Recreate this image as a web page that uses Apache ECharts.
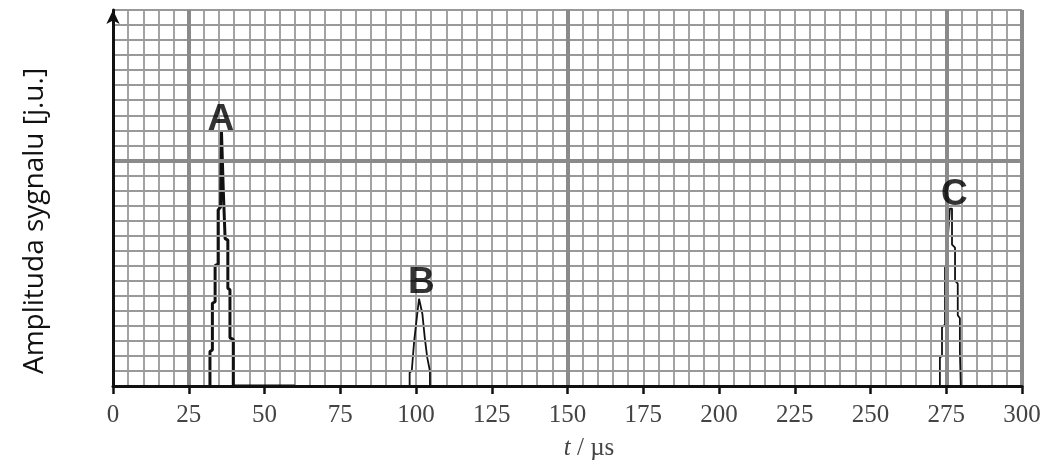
<!DOCTYPE html>
<html>
<head>
<meta charset="utf-8">
<script src="https://cdn.jsdelivr.net/npm/echarts@6/dist/echarts.min.js"></script>
<style>html,body{margin:0;padding:0;background:#fff;}#c{width:1060px;height:466px;}</style>
</head>
<body>
<div id="c"></div>
<script>
// ---- data ----
const xTickLabels = [0, 25, 50, 75, 100, 125, 150, 175, 200, 225, 250, 275, 300];
const peakA = [[32.0,0],[32.0,2.3],[32.8,2.4],[32.8,5.5],[33.7,5.6],[33.7,8.0],[34.7,8.1],[34.7,11.7],[35.5,11.9],[35.8,16.9],[36.3,16.9],[36.4,13.0],[37.0,12.9],[37.0,9.8],[37.9,9.7],[37.9,6.5],[38.6,6.4],[38.6,3.2],[39.7,3.1],[39.7,0],[60,0]];
const peakB = [[97.9,0],[97.9,0.9],[98.6,1.0],[99.4,3.0],[100.3,4.6],[101.0,5.8],[101.5,5.8],[102.1,4.8],[102.9,3.2],[103.7,1.9],[104.6,1.0],[104.6,0]];
const peakC = [[272.9,0],[272.9,1.9],[273.6,2.0],[273.6,3.9],[274.6,4.1],[274.6,7.9],[275.5,8.0],[275.5,9.8],[276.2,11.8],[276.9,11.8],[276.9,9.4],[277.9,9.2],[277.9,7.0],[278.8,6.8],[278.8,4.7],[279.5,4.5],[279.5,2.3],[279.8,0]];
const peakNames = ['A', 'B', 'C'];
const peakLabelX = [35.6, 101.8, 277.7];
const peakLabelY = [17.7, 6.85, 12.7];
const majorX = [25, 150, 275, 300];
const majorY = [15];

const chart = echarts.init(document.getElementById('c'));
const lineCommon = {type:'line', showSymbol:false, symbol:'none', animation:false, xAxisIndex:0, yAxisIndex:0, z:3};
chart.setOption({
  animation:false,
  grid:{left:113, right:38, top:10, bottom:80},
  xAxis:[
    {type:'value', min:0, max:300, interval:5, position:'bottom',
     axisLine:{show:false}, axisTick:{show:false}, axisLabel:{show:false},
     splitLine:{show:true, lineStyle:{color:'#999', width:1.8}}},
    {type:'value', min:0, max:300, interval:25, position:'bottom', z:5,
     axisLine:{show:true, onZero:false, lineStyle:{color:'#111', width:3}},
     axisTick:{show:true, length:8, lineStyle:{color:'#111', width:2.5}},
     axisLabel:{show:true, margin:17, fontFamily:'Liberation Serif', fontSize:25, color:'#444',
       formatter:function(v){return xTickLabels.indexOf(v) >= 0 ? String(v) : '';}},
     splitLine:{show:false}}
  ],
  yAxis:[
    {type:'value', min:0, max:25, interval:1, z:5,
     axisLine:{show:true, onZero:false, lineStyle:{color:'#111', width:3}, symbol:['none','arrow'], symbolSize:[10,14]},
     axisTick:{show:false}, axisLabel:{show:false},
     splitLine:{show:true, lineStyle:{color:'#999', width:1.8}}}
  ],
  graphic:[
    {type:'text', x:35, y:221, rotation:Math.PI/2, style:{text:'Amplituda sygnalu [j.u.]', font:'28px "Open Sans"', fill:'#111', textAlign:'center', textVerticalAlign:'middle'}},
    {type:'text', x:589, y:448, style:{rich:{i:{fontStyle:'italic', fontFamily:'Liberation Serif', fontSize:25, fill:'#444'}, n:{fontFamily:'Liberation Serif', fontSize:25, fill:'#444'}}, text:'{i|t}{n| / µs}', textAlign:'center', textVerticalAlign:'middle'}}
  ],
  series:[
    {type:'line', data:[], silent:true, z:1,
     markLine:{silent:true, symbol:'none', animation:false, label:{show:false},
       lineStyle:{color:'#8a8a8a', width:4, type:'solid'},
       data: majorX.map(v=>({xAxis:v})).concat(majorY.map(v=>({yAxis:v})))}},
    Object.assign({}, lineCommon, {data:peakA, lineStyle:{color:'#111', width:3}}),
    Object.assign({}, lineCommon, {data:peakB, lineStyle:{color:'#111', width:1.8}}),
    Object.assign({}, lineCommon, {data:peakC, lineStyle:{color:'#111', width:1.8}}),
    {type:'scatter', symbolSize:1, itemStyle:{color:'rgba(0,0,0,0)'}, z:6, animation:false,
     data: peakNames.map((n,i)=>({name:n, value:[peakLabelX[i], peakLabelY[i]]})),
     label:{show:true, position:'inside', formatter:'{b}', fontFamily:'Liberation Sans', fontWeight:'bold', fontSize:37, color:'#000'}}
  ]
});
</script>
</body>
</html>
